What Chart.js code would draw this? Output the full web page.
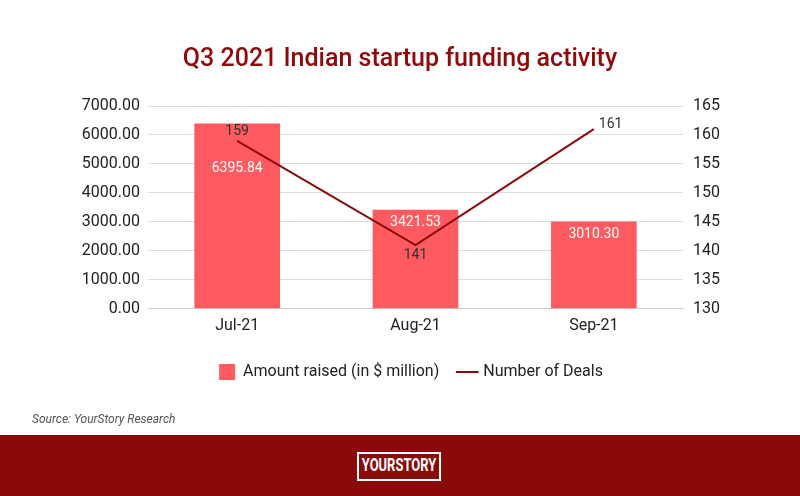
<!DOCTYPE html>
<html>
<head>
<meta charset="utf-8">
<script src="https://cdn.jsdelivr.net/npm/chart.js@4.4.1/dist/chart.umd.min.js"></script>
<style>
  html, body { margin: 0; padding: 0; background: #ffffff; }
  #wrap { position: relative; width: 800px; height: 496px; overflow: hidden; }
  #c { position: absolute; left: 0; top: 0; }
  #source { position: absolute; left: 32px; top: 412px; font: italic 12px Roboto, sans-serif; color: #555; }
  #footer { position: absolute; left: 0; top: 435px; width: 800px; height: 61px; background: #8a0a0a; }
  #logo { position: absolute; left: 357px; top: 17px; width: 80px; height: 25px; border: 2px solid #fff; color: #fff; }
  #logo span { position: absolute; left: 50%; top: 0; line-height: 25px; white-space: nowrap;
               font: bold 18px Roboto, sans-serif; transform: translateX(-50%) scaleX(0.72); }
</style>
</head>
<body>
<div id="wrap">
  <canvas id="c" width="800" height="435"></canvas>
  <div id="source">Source: YourStory Research</div>
  <div id="footer"><div id="logo"><span>YOURSTORY</span></div></div>
</div>
<script>
const categories = ["Jul-21", "Aug-21", "Sep-21"];
const amountRaised = [6395.84, 3421.53, 3010.30];
const numberOfDeals = [159, 141, 161];
const amountLabels = ["6395.84", "3421.53", "3010.30"];
const dealLabels = ["159", "141", "161"];

const labelPlugin = {
  id: 'valueLabels',
  afterDatasetsDraw(chart) {
    const ctx = chart.ctx;
    const barMeta = chart.getDatasetMeta(0);
    const lineMeta = chart.getDatasetMeta(1);
    ctx.save();
    ctx.font = '14px Roboto, sans-serif';
    ctx.textAlign = 'center';
    ctx.textBaseline = 'middle';
    barMeta.data.forEach((bar, i) => {
      const pt = lineMeta.data[i];
      let y = bar.y + 13;
      if (Math.abs(pt.y - bar.y) < 30) y = pt.y + 28;
      ctx.fillStyle = '#ffffff';
      ctx.fillText(amountLabels[i], bar.x, y);
    });
    ctx.fillStyle = '#333333';
    const n = numberOfDeals.length;
    lineMeta.data.forEach((pt, i) => {
      const v = numberOfDeals[i];
      const isMin = i > 0 && i < n - 1 && v < numberOfDeals[i - 1] && v < numberOfDeals[i + 1];
      if (i === n - 1) {
        ctx.textAlign = 'left';
        ctx.fillText(dealLabels[i], pt.x + 5, pt.y - 5);
      } else if (isMin) {
        ctx.textAlign = 'center';
        ctx.fillText(dealLabels[i], pt.x, pt.y + 10);
      } else {
        ctx.textAlign = 'center';
        ctx.fillText(dealLabels[i], pt.x, pt.y - 9);
      }
    });
    ctx.restore();
  }
};

const legendShift = {
  id: 'legendShift',
  beforeDraw(chart) {
    if (chart.legend) { chart.legend.left += 11; chart.legend.right += 11; }
  }
};

new Chart(document.getElementById('c'), {
  type: 'bar',
  data: {
    labels: categories,
    datasets: [
      {
        type: 'bar',
        label: 'Amount raised (in $ million)',
        data: amountRaised,
        backgroundColor: '#ff5a5f',
        borderWidth: 0,
        yAxisID: 'y',
        categoryPercentage: 0.48,
        barPercentage: 1.0,
        order: 2
      },
      {
        type: 'line',
        label: 'Number of Deals',
        data: numberOfDeals,
        borderColor: '#8b0a0a',
        backgroundColor: '#8b0a0a',
        borderWidth: 2,
        pointRadius: 0,
        tension: 0,
        yAxisID: 'y1',
        order: 1
      }
    ]
  },
  options: {
    responsive: false,
    animation: false,
    layout: { padding: { left: 0, right: 0, top: 0, bottom: 45 } },
    plugins: {
      title: {
        display: true,
        text: 'Q3 2021 Indian startup funding activity',
        color: '#8f0b0b',
        font: { family: 'Roboto', size: 25, weight: '500' },
        padding: { top: 45, bottom: 31 }
      },
      legend: {
        position: 'bottom',
        labels: {
          usePointStyle: true,
          color: '#222',
          font: { family: 'Roboto', size: 16 },
          boxWidth: 16,
          boxHeight: 16,
          padding: 20,
          generateLabels(chart) {
            const items = Chart.defaults.plugins.legend.labels.generateLabels(chart);
            items.sort((a, b) => a.datasetIndex - b.datasetIndex);
            items.forEach(it => {
              if (it.datasetIndex === 0) { it.pointStyle = 'rect'; it.fillStyle = '#ff5a5f'; it.strokeStyle = '#ff5a5f'; it.lineWidth = 0; }
              else { it.pointStyle = 'line'; it.strokeStyle = '#8b0a0a'; it.lineWidth = 2; }
            });
            return items;
          }
        }
      },
      tooltip: { enabled: false }
    },
    scales: {
      x: {
        grid: { display: false, drawTicks: false },
        border: { display: true, color: '#cccccc' },
        ticks: { color: '#222', font: { family: 'Roboto', size: 16 }, padding: 8 }
      },
      y: {
        position: 'left',
        min: 0, max: 7000,
        afterFit(scale) { scale.width = 148; },
        grid: { color: '#dddddd', drawTicks: false },
        border: { display: false },
        ticks: {
          stepSize: 1000,
          color: '#222',
          font: { family: 'Roboto', size: 16 },
          padding: 8,
          callback: v => Number(v).toFixed(2)
        }
      },
      y1: {
        position: 'right',
        min: 130, max: 165,
        afterFit(scale) { scale.width = 117; },
        grid: { display: false, drawTicks: false },
        border: { display: false },
        ticks: { stepSize: 5, color: '#222', font: { family: 'Roboto', size: 16 }, padding: 10 }
      }
    }
  },
  plugins: [labelPlugin, legendShift]
});
</script>
</body>
</html>
